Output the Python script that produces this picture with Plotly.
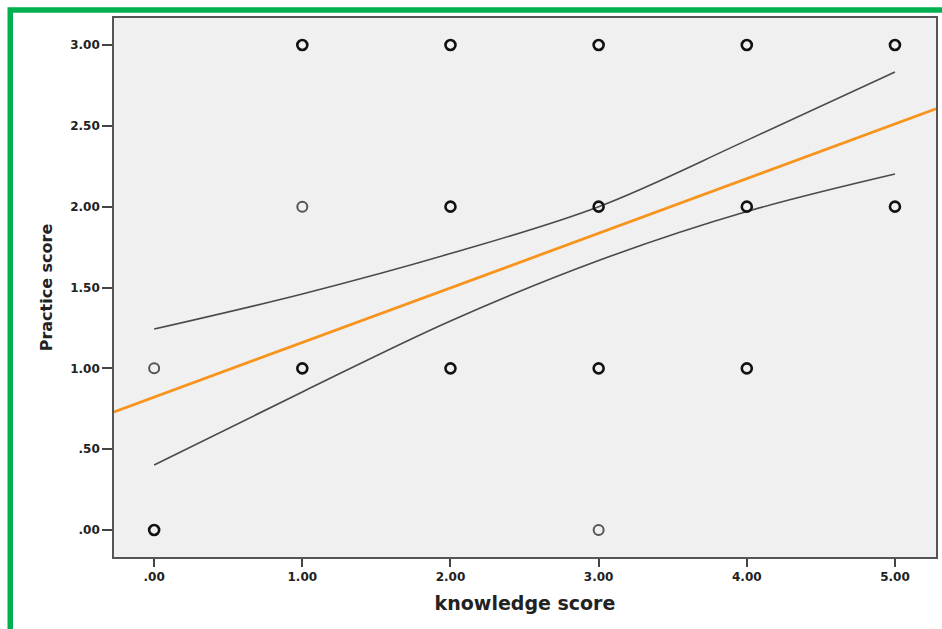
import plotly.graph_objects as go

# ---- data ----
pts_x = [1, 2, 3, 4, 5, 1, 2, 3, 4, 5, 0, 1, 2, 3, 4, 0, 3]
pts_y = [3, 3, 3, 3, 3, 2, 2, 2, 2, 2, 1, 1, 1, 1, 1, 0, 0]
pts_bold = [1, 1, 1, 1, 1, 0, 1, 1, 1, 1, 0, 1, 1, 1, 1, 1, 0]

fit_x = [-0.271, 5.277]
fit_y = [0.730, 2.605]

ci_x = [0, 1, 2, 3, 4, 5]
ci_upper = [1.243, 1.46, 1.71, 2.00, 2.41, 2.833]
ci_lower = [0.402, 0.854, 1.293, 1.667, 1.97, 2.202]

x_ticks = [0, 1, 2, 3, 4, 5]
x_labels = [".00", "1.00", "2.00", "3.00", "4.00", "5.00"]
y_ticks = [0, 0.5, 1, 1.5, 2, 2.5, 3]
y_labels = [".00", ".50", "1.00", "1.50", "2.00", "2.50", "3.00"]

fig = go.Figure()

for ys_ in (ci_upper, ci_lower):
    fig.add_trace(go.Scatter(x=ci_x, y=ys_, mode="lines", line=dict(color="#4a4a4a", width=1.6, shape="spline"),
                             hoverinfo="skip", showlegend=False))

fig.add_trace(go.Scatter(x=fit_x, y=fit_y, mode="lines", line=dict(color="#f7941d", width=2.8),
                         showlegend=False))

bx = [x for x, b in zip(pts_x, pts_bold) if b]
by = [y for y, b in zip(pts_y, pts_bold) if b]
lx = [x for x, b in zip(pts_x, pts_bold) if not b]
ly = [y for y, b in zip(pts_y, pts_bold) if not b]
fig.add_trace(go.Scatter(x=lx, y=ly, mode="markers", showlegend=False,
                         marker=dict(symbol="circle-open", size=10, color="#555555",
                                     line=dict(color="#555555", width=2))))
fig.add_trace(go.Scatter(x=bx, y=by, mode="markers", showlegend=False,
                         marker=dict(symbol="circle-open", size=10, color="#111111",
                                     line=dict(color="#111111", width=2.6))))

fig.update_layout(
    width=942, height=629,
    margin=dict(l=114, r=4, t=18, b=72),
    paper_bgcolor="white", plot_bgcolor="#f0f0f0",
    font=dict(family="DejaVu Sans", color="#222222"),
    showlegend=False,
)
fig.update_xaxes(range=[-0.271, 5.277], tickvals=x_ticks, ticktext=x_labels,
                 showgrid=False, zeroline=False, showline=True, mirror=True,
                 linecolor="#555555", linewidth=1.6, ticks="outside", ticklen=8, tickwidth=2,
                 tickcolor="#444444", tickfont=dict(size=12, family="DejaVu Sans", weight="bold"),
                 title=dict(text="<b>knowledge score</b>", font=dict(size=19), standoff=13))
fig.update_yaxes(range=[-0.167, 3.167], tickvals=y_ticks, ticktext=y_labels,
                 showgrid=False, zeroline=False, showline=True, mirror=True,
                 linecolor="#555555", linewidth=1.6, ticks="outside", ticklen=10, tickwidth=2,
                 tickcolor="#444444", tickfont=dict(size=12, family="DejaVu Sans", weight="bold"),
                 title=dict(text="<b>Practice score</b>", font=dict(size=16), standoff=14))

# green frame around the figure
fig.add_shape(type="rect", xref="paper", yref="paper",
              x0=(10 - 114) / 824, x1=(950 - 114) / 824,
              y0=(557 - 640) / 539, y1=1 + (18 - 10) / 539,
              line=dict(color="#00b050", width=5.5), fillcolor="rgba(0,0,0,0)", layer="above")

fig.write_html("out.html")
